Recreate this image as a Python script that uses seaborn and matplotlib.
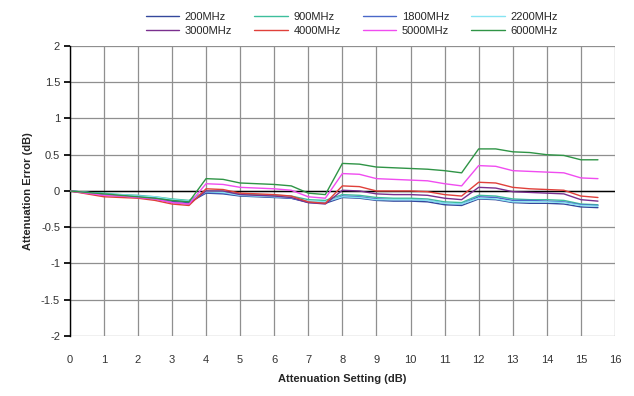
import numpy as np
import pandas as pd
import seaborn as sns
from matplotlib import pyplot as plt

# attenuation setting, 0.5 dB steps
setting = [0, 0.5, 1, 1.5, 2, 2.5, 3, 3.5, 4, 4.5, 5, 5.5, 6, 6.5, 7, 7.5,
           8, 8.5, 9, 9.5, 10, 10.5, 11, 11.5, 12, 12.5, 13, 13.5, 14, 14.5, 15, 15.5]

err_200 = [0, -0.02, -0.04, -0.06, -0.07, -0.09, -0.14, -0.16, -0.03, -0.04, -0.07, -0.08, -0.09, -0.10, -0.16, -0.17,
           -0.09, -0.10, -0.13, -0.14, -0.14, -0.15, -0.19, -0.20, -0.11, -0.12, -0.16, -0.17, -0.17, -0.18, -0.22, -0.23]
err_900 = [0, -0.02, -0.03, -0.05, -0.06, -0.08, -0.11, -0.13, 0.0, -0.01, -0.04, -0.05, -0.06, -0.07, -0.12, -0.13,
           -0.05, -0.06, -0.09, -0.10, -0.10, -0.11, -0.15, -0.16, -0.06, -0.07, -0.11, -0.12, -0.12, -0.13, -0.18, -0.19]
err_1800 = [0, -0.02, -0.04, -0.06, -0.07, -0.09, -0.13, -0.15, -0.02, -0.03, -0.06, -0.07, -0.08, -0.10, -0.15, -0.16,
            -0.07, -0.08, -0.11, -0.12, -0.12, -0.13, -0.17, -0.18, -0.08, -0.09, -0.13, -0.13, -0.14, -0.15, -0.19, -0.20]
err_2200 = [0, -0.02, -0.04, -0.05, -0.07, -0.08, -0.12, -0.14, -0.01, -0.02, -0.06, -0.07, -0.08, -0.09, -0.14, -0.15,
            -0.08, -0.09, -0.12, -0.12, -0.12, -0.13, -0.17, -0.18, -0.10, -0.11, -0.15, -0.15, -0.15, -0.16, -0.20, -0.21]
err_3000 = [0, -0.03, -0.06, -0.07, -0.09, -0.11, -0.16, -0.18, 0.0, 0.0, -0.05, -0.06, -0.07, -0.09, -0.16, -0.18,
            0.01, 0.0, -0.04, -0.05, -0.05, -0.06, -0.10, -0.12, 0.05, 0.04, -0.01, -0.02, -0.03, -0.04, -0.12, -0.14]
err_4000 = [0, -0.04, -0.08, -0.09, -0.10, -0.13, -0.18, -0.20, 0.03, 0.02, -0.03, -0.04, -0.05, -0.07, -0.15, -0.17,
            0.07, 0.06, 0.0, 0.0, 0.0, -0.01, -0.05, -0.07, 0.12, 0.11, 0.05, 0.03, 0.02, 0.01, -0.07, -0.09]
err_5000 = [0, -0.03, -0.06, -0.07, -0.09, -0.11, -0.16, -0.18, 0.10, 0.09, 0.05, 0.04, 0.03, 0.01, -0.08, -0.10,
            0.24, 0.23, 0.17, 0.16, 0.15, 0.14, 0.10, 0.07, 0.35, 0.34, 0.28, 0.27, 0.26, 0.25, 0.18, 0.17]
err_6000 = [0, -0.02, -0.04, -0.06, -0.08, -0.10, -0.13, -0.15, 0.17, 0.16, 0.11, 0.10, 0.09, 0.07, -0.03, -0.05,
            0.38, 0.37, 0.33, 0.32, 0.31, 0.30, 0.28, 0.25, 0.58, 0.58, 0.54, 0.53, 0.50, 0.49, 0.43, 0.43]

freqs = ["200MHz", "900MHz", "1800MHz", "2200MHz", "3000MHz", "4000MHz", "5000MHz", "6000MHz"]
errors = [err_200, err_900, err_1800, err_2200, err_3000, err_4000, err_5000, err_6000]
colors = ["#34489C", "#3DBE9C", "#4A68C8", "#86E4F2", "#7A2F8E", "#E0403A", "#F04CF0", "#2F9446"]

df = pd.concat([pd.DataFrame({"setting": setting, "error": e, "freq": f})
                for f, e in zip(freqs, errors)], ignore_index=True)

sns.set_theme(style="white")
plt.rcParams["font.family"] = ["Liberation Sans", "DejaVu Sans"]

fig = plt.figure(figsize=(6.34, 3.96), dpi=100)
ax = fig.add_axes([0.110, 0.1515, 0.860, 0.7325])

ax.set_xlim(0, 16)
ax.set_ylim(-2, 2)
ax.set_xticks(range(0, 17))
ax.set_yticks(np.arange(-2, 2.01, 0.5))
ax.set_yticklabels(["-2", "-1.5", "-1", "-0.5", "0", "0.5", "1", "1.5", "2"])
ax.grid(True, color="#8f8f8f", linewidth=0.9)
ax.axhline(0, color="black", linewidth=1.0, zorder=1)

sns.lineplot(data=df, x="setting", y="error", hue="freq", palette=dict(zip(freqs, colors)),
             linewidth=1.0, ax=ax, legend=True, zorder=3)

for side in ["top", "right", "bottom"]:
    ax.spines[side].set_visible(False)
ax.spines["left"].set_color("black")
ax.spines["left"].set_linewidth(1.0)
ax.tick_params(axis="y", left=True, length=4, color="black", labelsize=8, labelcolor="#333333", pad=3)
ax.tick_params(axis="x", bottom=False, labelsize=8, labelcolor="#333333", pad=8)

ax.set_xlabel("Attenuation Setting (dB)", fontsize=8, fontweight="bold", labelpad=6)
ax.set_ylabel("Attenuation Error (dB)", fontsize=8, fontweight="bold", labelpad=6)

handles, labels = ax.get_legend_handles_labels()
ax.get_legend().remove()
# legend fills row by row in the reference: reorder for matplotlib's column filling
order = [0, 4, 1, 5, 2, 6, 3, 7]
fig.legend([handles[i] for i in order], [labels[i] for i in order], loc="center",
           bbox_to_anchor=(0.555, 0.94), ncol=4, frameon=False,
           fontsize=8, handlelength=3.0, columnspacing=2.0, labelspacing=0.35, handletextpad=0.5)

fig.savefig("out.png", dpi=100)
